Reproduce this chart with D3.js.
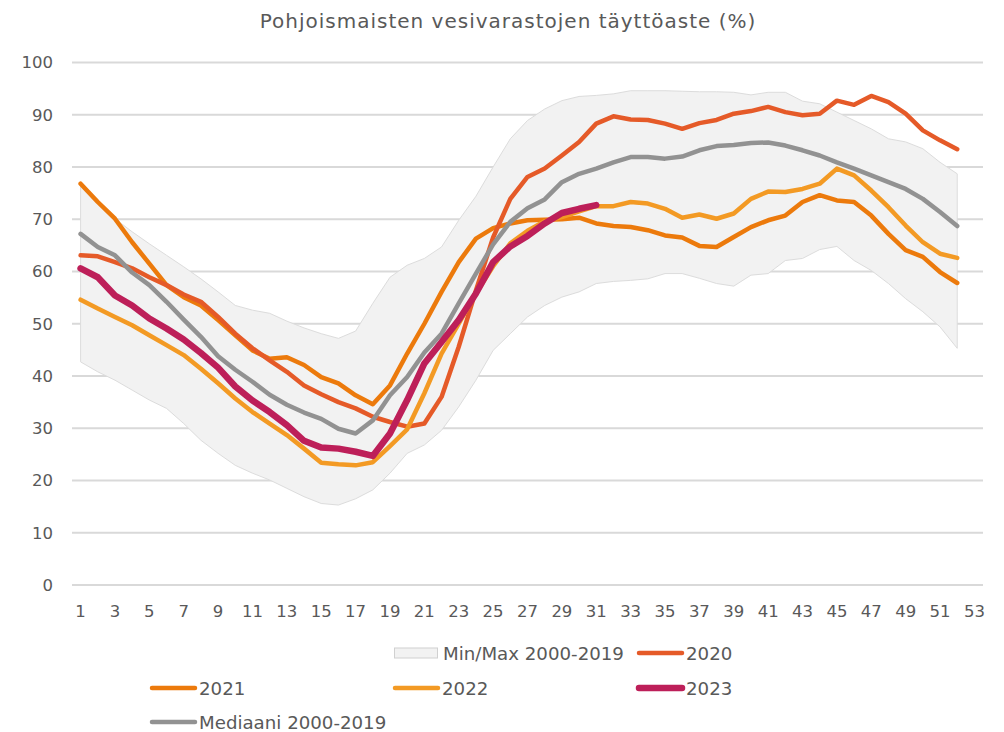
<!DOCTYPE html>
<html>
<head>
<meta charset="utf-8">
<script src="https://cdn.jsdelivr.net/npm/d3@7"></script>
<style>
  body { margin: 0; background: #fff; }
  text { font-family: "DejaVu Sans", Verdana, sans-serif; fill: #595959; }
</style>
</head>
<body>
<script>
const w = 1004
const h = 732

// Weeks 1..53 on a category axis, labels every other week
const weeks = d3.range(1, 54)
const tickWeeks = weeks.filter(d => d % 2 === 1)
const yTicks = d3.range(0, 101, 10)

// Min/Max 2000-2019 (weeks 1-52)
const bandMax = [76.8, 73.3, 70.1, 67.6, 65.3, 63.1, 60.9, 58.6, 56.1, 53.5, 52.6, 52.0, 50.5, 49.2, 48.1, 47.2, 48.6, 53.9, 58.9, 61.2,
  62.5, 64.7, 69.8, 74.4, 80.0, 85.4, 88.9, 91.1, 92.7, 93.5, 93.7, 94.0, 94.6, 94.6, 94.6, 94.5, 94.4, 94.4, 94.3, 93.8,
  94.3, 94.3, 92.6, 92.1, 90.5, 88.9, 87.3, 85.4, 84.8, 83.5, 80.9, 78.7]
const bandMin = [42.7, 40.8, 39.2, 37.3, 35.4, 33.8, 30.9, 27.7, 25.2, 22.9, 21.4, 20.1, 18.5, 16.9, 15.6, 15.3, 16.5, 18.2, 21.4, 25.2,
  26.8, 29.6, 34.1, 39.2, 44.9, 48.1, 51.3, 53.5, 55.1, 56.1, 57.7, 58.1, 58.3, 58.6, 59.6, 59.6, 58.7, 57.7, 57.2, 59.3,
  59.6, 62.1, 62.5, 64.2, 64.8, 62.1, 60.2, 57.7, 54.8, 52.3, 49.4, 45.3]

const y2020 = [63.1, 62.9, 61.8, 60.6, 58.9, 57.4, 55.6, 54.2, 51.3, 48.1, 45.3, 43.0, 40.8, 38.2, 36.5, 35.0, 33.8, 32.2, 31.2, 30.3,
  30.9, 36.0, 45.6, 56.4, 66.5, 73.9, 78.1, 79.7, 82.2, 84.8, 88.3, 89.7, 89.1, 89.0, 88.3, 87.3, 88.4, 89.0, 90.2, 90.7,
  91.5, 90.5, 89.9, 90.2, 92.7, 91.9, 93.6, 92.4, 90.2, 87.0, 85.1, 83.4]
const y2021 = [76.8, 73.3, 70.1, 65.6, 61.5, 57.4, 55.1, 53.5, 50.7, 47.8, 44.9, 43.3, 43.6, 42.1, 39.8, 38.6, 36.3, 34.6, 38.2, 44.3,
  50.0, 56.1, 61.8, 66.3, 68.3, 69.2, 69.8, 69.9, 70.0, 70.3, 69.2, 68.7, 68.5, 67.9, 66.9, 66.5, 64.9, 64.7, 66.6, 68.5,
  69.8, 70.7, 73.3, 74.6, 73.6, 73.3, 70.7, 67.2, 64.1, 62.8, 59.9, 57.8]
const y2022 = [54.6, 52.9, 51.3, 49.7, 47.8, 45.9, 44.0, 41.4, 38.6, 35.7, 33.1, 30.9, 28.7, 26.1, 23.4, 23.1, 22.9, 23.5, 26.6, 29.8,
  36.7, 44.3, 50.0, 55.8, 61.0, 65.4, 67.8, 69.6, 70.4, 71.5, 72.5, 72.5, 73.3, 73.0, 72.0, 70.3, 70.9, 70.1, 71.1, 73.9,
  75.3, 75.2, 75.8, 76.8, 79.7, 78.4, 75.5, 72.3, 68.8, 65.6, 63.4, 62.6]
const y2023 = [60.6, 58.9, 55.4, 53.5, 51.0, 49.1, 47.0, 44.4, 41.6, 38.0, 35.3, 33.1, 30.6, 27.6, 26.3, 26.1, 25.5, 24.7, 29.0, 35.4,
  42.4, 46.5, 50.7, 55.8, 61.8, 64.8, 66.8, 69.2, 71.2, 72.0, 72.7]
const median = [67.2, 64.7, 63.1, 59.8, 57.4, 54.2, 50.8, 47.5, 43.8, 41.2, 38.9, 36.4, 34.5, 33.0, 31.8, 29.9, 29.0, 31.5, 36.3, 39.8,
  44.5, 48.1, 53.9, 59.6, 65.2, 69.5, 72.1, 73.8, 77.1, 78.7, 79.7, 80.9, 81.9, 81.9, 81.6, 82.0, 83.2, 84.0, 84.2, 84.6,
  84.7, 84.1, 83.2, 82.2, 80.9, 79.7, 78.4, 77.1, 75.8, 73.9, 71.4, 68.7]

// Lines drawn in this order (median and 2023 on top, as in the original)
const series = [
  {name: "2021", values: y2021, color: "#ec7a0c", width: 4.5},
  {name: "2020", values: y2020, color: "#e55a28", width: 4.5},
  {name: "2022", values: y2022, color: "#f39a24", width: 4.5},
  {name: "Mediaani 2000-2019", values: median, color: "#929292", width: 4.5},
  {name: "2023", values: y2023, color: "#bd1f59", width: 6.5}
]

const svg = d3.select("body")
              .append("svg")
              .attr("width", w)
              .attr("height", h)

const x = d3.scaleBand()
            .domain(weeks)
            .range([72, 983])
const xc = d => x(d) + x.bandwidth() / 2

const y = d3.scaleLinear()
            .domain([0, 100])
            .range([585, 62.5])

// gridlines
svg.append("g")
    .selectAll("line")
    .data(yTicks.filter(d => d > 0))
    .enter()
    .append("line")
      .attr("x1", 72)
      .attr("x2", 983)
      .attr("y1", d => y(d))
      .attr("y2", d => y(d))
      .attr("stroke", "#d9d9d9")
      .attr("stroke-width", 2)

// min/max band
const area = d3.area()
                .x((d, i) => xc(weeks[i]))
                .y0((d, i) => y(bandMin[i]))
                .y1(d => y(d))

svg.append("path")
    .datum(bandMax)
    .attr("d", area)
    .attr("fill", "#f2f2f2")
    .attr("stroke", "#dcdcdc")
    .attr("stroke-width", 1)

// x axis baseline
svg.append("line")
    .attr("x1", 72)
    .attr("x2", 983)
    .attr("y1", y(0))
    .attr("y2", y(0))
    .attr("stroke", "#d9d9d9")
    .attr("stroke-width", 2)

// y tick labels
svg.append("g")
    .selectAll("text")
    .data(yTicks)
    .enter()
    .append("text")
      .attr("x", 53)
      .attr("y", d => y(d))
      .attr("dy", "0.36em")
      .attr("text-anchor", "end")
      .style("font-size", "16.5px")
      .text(d => d)

// x tick labels
svg.append("g")
    .selectAll("text")
    .data(tickWeeks)
    .enter()
    .append("text")
      .attr("x", d => xc(d))
      .attr("y", 617)
      .attr("text-anchor", "middle")
      .style("font-size", "16.5px")
      .text(d => d)

// lines
const line = d3.line()
                .x((d, i) => xc(weeks[i]))
                .y(d => y(d))

svg.append("g")
    .selectAll("path")
    .data(series)
    .enter()
    .append("path")
      .attr("d", d => line(d.values))
      .attr("fill", "none")
      .attr("stroke", d => d.color)
      .attr("stroke-width", d => d.width)
      .attr("stroke-linejoin", "round")
      .attr("stroke-linecap", "round")

// title
svg.append("text")
    .attr("x", 508)
    .attr("y", 28)
    .attr("text-anchor", "middle")
    .style("font-size", "20px")
    .style("letter-spacing", "1px")
    .text("Pohjoismaisten vesivarastojen täyttöaste (%)")

// legend
const legendItems = [
  {name: "Min/Max 2000-2019", band: true, x: 394, y: 653},
  {name: "2020", x: 637, y: 653},
  {name: "2021", x: 150, y: 688},
  {name: "2022", x: 393, y: 688},
  {name: "2023", x: 637, y: 688},
  {name: "Mediaani 2000-2019", x: 150, y: 722}
]

const legend = svg.append("g")
                  .selectAll("g")
                  .data(legendItems)
                  .enter()
                  .append("g")
                    .attr("transform", d => `translate(${d.x}, ${d.y})`)

legend.filter(d => d.band)
      .append("rect")
        .attr("x", 0.5)
        .attr("y", -5)
        .attr("width", 43)
        .attr("height", 10)
        .attr("fill", "#f2f2f2")
        .attr("stroke", "#d0d0d0")
        .attr("stroke-width", 1)

legend.filter(d => !d.band)
      .append("line")
        .attr("x1", 2)
        .attr("x2", 45)
        .attr("stroke", d => series.find(s => s.name === d.name).color)
        .attr("stroke-width", d => series.find(s => s.name === d.name).width)
        .attr("stroke-linecap", "round")

legend.append("text")
      .attr("x", 49)
      .attr("dy", "0.36em")
      .style("font-size", "18.2px")
      .text(d => d.name)
</script>
</body>
</html>
